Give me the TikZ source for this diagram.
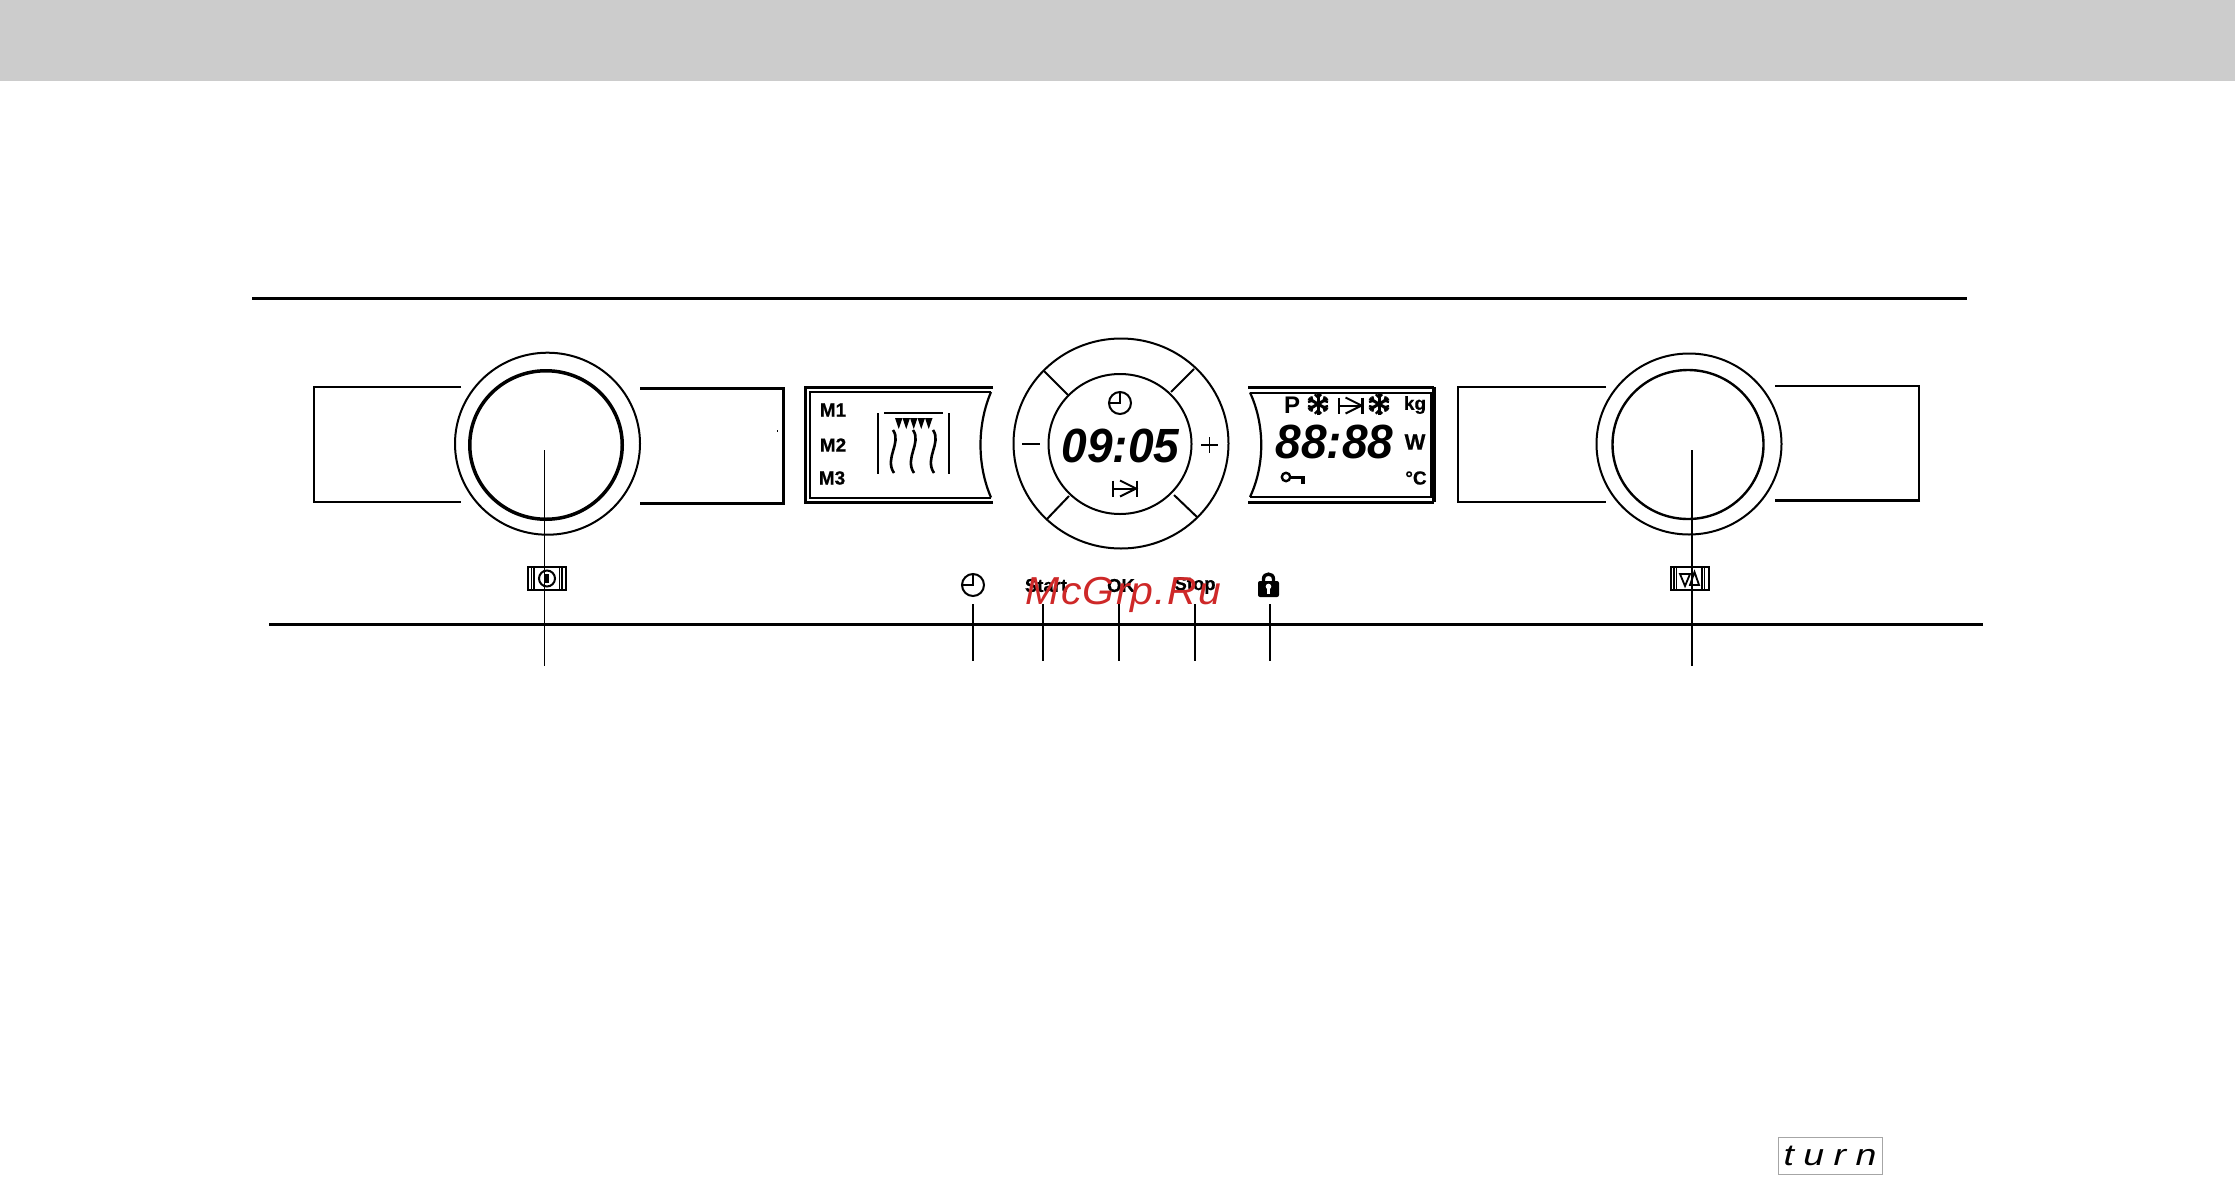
\documentclass[tikz,border=0pt]{standalone}
\usetikzlibrary{shapes.geometric}
\usepackage{fontspec}
\setmainfont{Liberation Sans}
\newfontfamily\wmfont{Liberation Sans}[LetterSpace=3]
\newfontfamily\turnfont{Liberation Sans}[LetterSpace=25]
\newfontfamily\heavyfont{Liberation Sans Bold}[FakeBold=0.6]
\tikzset{
  boxthin/.style={line width=2pt},
  boxthick/.style={line width=3pt},
  ringouter/.style={line width=2pt},
  ringinner/.style={line width=3.5pt},
  leader/.style={line width=1.3pt},
  leaderthick/.style={line width=2.4pt},
  rule/.style={line width=3pt},
  lcdtxt/.style={inner sep=0pt,font=\fontsize{48}{48}\selectfont\bfseries\itshape,xscale=0.96},
  disptxt/.style={inner sep=0pt,font=\fontsize{19}{19}\selectfont\heavyfont},
  keytxt/.style={inner sep=0pt,font=\fontsize{18.5}{18.5}\selectfont\heavyfont},
  clockpic/.pic={
    \draw[line width=2pt] (0,0) circle (11);
    \draw[line width=2pt] (0,-11) -- (0,0) -- (-11,0);
  },
  endpic/.pic={
    \draw[line width=2pt] (-12,-8) -- (-12,8);
    \draw[line width=2.4pt] (12,-8) -- (12,8);
    \draw[line width=2pt] (-12,0) -- (11,0);
    \draw[line width=2pt] (-5,-8) -- (11,0) -- (-5,8);
  },
  flakepic/.pic={
    \foreach \a in {30,90,150,210,270,330}{
      \draw[line width=3pt] (0,0) -- (\a:11);
      \draw[line width=2.4pt] (\a:6.5) -- ++(\a+45:4.5);
      \draw[line width=2.4pt] (\a:6.5) -- ++(\a-45:4.5);
    }
  },
  framepic/.pic={
    \draw[line width=2pt] (-19,-11.5) rectangle (19,11.5);
    \draw[line width=1.3pt] (-15.5,-11.5) -- (-15.5,11.5);
    \draw[line width=1.6pt] (-13,-11.5) -- (-13,11.5);
    \draw[line width=1.6pt] (12.5,-11.5) -- (12.5,11.5);
    \draw[line width=1.3pt] (15,-11.5) -- (15,11.5);
  }
}
\definecolor{wmred}{RGB}{206,40,40}
\begin{document}
\begin{tikzpicture}[x=1pt,y=-1pt]
\useasboundingbox (0,0) rectangle (2235,1178);
\fill[white] (0,0) rectangle (2235,1178);
\fill[black!20] (0,0) rectangle (2235,81);
% rules
\draw[rule] (252,298.3) -- (1967,298.3);
\draw[rule] (269,624) -- (1983,624);

% left knob
\draw[boxthin] (461,387) -- (314,387) -- (314,502) -- (461,502);
\draw[boxthick] (640,388) -- (783,388) -- (783,503) -- (640,503);
\fill (776.5,430) rectangle (777.5,432);
\node[ellipse,draw,ringouter,minimum width=185pt,minimum height=182pt,inner sep=0pt,anchor=center] (knobLo) at (547.5,443.7) {};
\node[ellipse,draw,ringinner,minimum width=152.5pt,minimum height=148.5pt,inner sep=0pt] (knobLi) at (546,445) {};
\pic at (547,578.5) {framepic};
\draw[line width=2pt] (547,578.5) circle (8);
\fill (544.5,574) rectangle (549,583);
\coordinate (leadAtop) at (544.5,450);
\coordinate (leadAend) at (544.5,666);
\draw[leader] (leadAtop) -- (leadAend);

% left display
\draw[boxthick] (993,387) -- (805.5,387) -- (805.5,502) -- (993,502);
\draw[boxthin] (991,392) -- (810,392) -- (810,497.5) -- (991,497.5);
\draw[line width=2.2pt] (991,392) .. controls (977,425) and (977,465) .. (991,497.5);
\node[disptxt] (m1) at (833,410) {M1};
\node[disptxt] (m2) at (833,445) {M2};
\node[disptxt] (m3) at (832,478) {M3};
\draw[line width=2.6pt] (878,413) -- (878,474);
\draw[line width=2pt] (949,413) -- (949,474);
\draw[line width=1.6pt] (884,413) -- (943,413);
\foreach \x in {895,902.5,910,917.5,925}{
  \fill (\x,418) -- (\x+7.5,418) -- (\x+3.75,429) -- cycle;
}
\foreach \x in {893,913,933}{
  \draw[line width=2.6pt] (\x,430) .. controls (\x+9,443) and (\x-9,458) .. (\x+1,473);
}

% dial
\node[ellipse,draw,ringouter,minimum width=215pt,minimum height=210pt,inner sep=0pt] (dialO) at (1121,443.5) {};
\node[ellipse,draw,ringouter,minimum width=143pt,minimum height=140pt,inner sep=0pt] (dialI) at (1120,444) {};
\draw[ringouter] (1044,371) -- (1068,395);
\draw[ringouter] (1194,369) -- (1171,392);
\draw[ringouter] (1069,496) -- (1047,519);
\draw[ringouter] (1174,495) -- (1197,517);
\draw[line width=1.8pt] (1022,444) -- (1040,444);
\draw[line width=1.8pt] (1201,445) -- (1218,445) (1209.5,437) -- (1209.5,453);
\pic at (1120,403) {clockpic};
\node[lcdtxt] (time) at (1120.5,446) {09:05};
\pic at (1125,488.5) {endpic};

% right display
\draw[line width=3pt] (1248,387) -- (1433.5,387);
\draw[line width=4pt] (1433.5,387) -- (1433.5,502);
\draw[line width=3pt] (1433.5,502) -- (1248,502);
\draw[boxthin] (1250,392.5) -- (1431,392.5) -- (1431,497) -- (1250,497);
\draw[line width=2.2pt] (1250,392.5) .. controls (1265,425) and (1265,465) .. (1250,497);
\node[inner sep=0pt,font=\fontsize{24}{24}\selectfont\bfseries] (pp) at (1292,405) {P};
\pic at (1318,404) {flakepic};
\begin{scope}[shift={(1350.5,405.5)},scale=0.8]
\pic {endpic};
\end{scope}
\pic at (1379,404) {flakepic};
\node[disptxt] (kg) at (1415,405) {kg};
\node[disptxt,font=\fontsize{22}{22}\selectfont\heavyfont] (ww) at (1415,442) {W};
\node[disptxt] (degc) at (1416,478) {°C};
\node[lcdtxt] (lcdr) at (1334.5,441.5) {88:88};
\draw[line width=2.4pt] (1286,477) circle (4.2);
\fill (1290,475.5) rectangle (1305,478.5);
\fill (1301,475.5) rectangle (1305,484);

% right knob
\draw[boxthin] (1606,387) -- (1458,387) -- (1458,502) -- (1606,502);
\draw[boxthin] (1775,386) -- (1919,386) -- (1919,500);
\draw[line width=3pt] (1920,500.5) -- (1775,500.5);
\node[ellipse,draw,ringouter,minimum width=185pt,minimum height=181pt,inner sep=0pt] (knobRo) at (1689,444) {};
\node[ellipse,draw,line width=2.4pt,minimum width=151pt,minimum height=149pt,inner sep=0pt] (knobRi) at (1688,444.5) {};
\pic at (1689.5,578.5) {framepic};
\draw[line width=1.8pt] (1680,574) -- (1690,574) -- (1685,586) -- cycle;
\draw[line width=1.8pt] (1690,585) -- (1699,585) -- (1694.5,572) -- cycle;
\coordinate (leadBtop) at (1692,450);
\coordinate (leadBend) at (1692,666);
\draw[line width=2pt] (leadBtop) -- (leadBend);

% keys
\pic at (973,585) {clockpic};
\node[keytxt] (kstart) at (1046,585.5) {Start};
\node[keytxt] (kok) at (1121,585.5) {OK};
\node[keytxt] (kstop) at (1195,585.5) {Stop};
\draw[line width=3.4pt] (1263.5,583) -- (1263.5,579) .. controls (1263.5,572.5) and (1273.5,572.5) .. (1273.5,579) -- (1273.5,583);
\fill[rounded corners=2pt] (1258,581) rectangle (1279,597);
\fill[white] (1268.5,586.5) circle (2.8);
\fill[white] (1267,587) rectangle (1270,594);
\coordinate (l1a) at (973,604); \coordinate (l1b) at (973,661);
\coordinate (l2a) at (1043,604); \coordinate (l2b) at (1043,661);
\coordinate (l3a) at (1119,604); \coordinate (l3b) at (1119,661);
\coordinate (l4a) at (1195,604); \coordinate (l4b) at (1195,661);
\coordinate (l5a) at (1270,604); \coordinate (l5b) at (1270,661);
\draw[leaderthick] (l1a) -- (l1b);
\draw[leader] (l2a) -- (l2b);
\draw[leader] (l3a) -- (l3b);
\draw[leaderthick] (l4a) -- (l4b);
\draw[leader] (l5a) -- (l5b);

% watermark
\node[inner sep=0pt,anchor=base,text=wmred,xscale=1.05,font=\fontsize{39}{39}\selectfont\itshape\wmfont] (wm) at (1123.5,604) {McGrp.Ru};

% turn
\node[draw=black!35,line width=1pt,minimum width=104pt,minimum height=37pt,inner sep=0pt] (turnbox) at (1830,1155.5) {};
\node[inner sep=0pt,xscale=1.25,font=\fontsize{30}{30}\selectfont\itshape\turnfont] (turn) at (turnbox.center) {turn};
\end{tikzpicture}
\end{document}
